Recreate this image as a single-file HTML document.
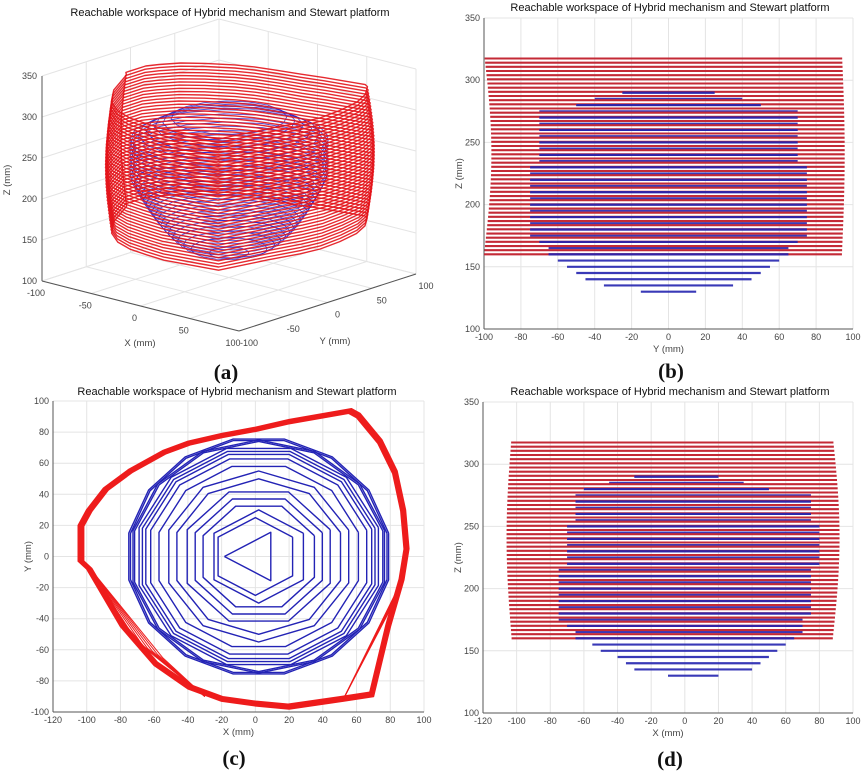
<!DOCTYPE html>
<html><head><meta charset="utf-8"><style>
body{margin:0;background:#fff;}
svg{display:block;font-family:"Liberation Sans",sans-serif;}
</style></head><body>
<svg id="s" width="867" height="778" viewBox="0 0 867 778" xmlns="http://www.w3.org/2000/svg">
<rect width="867" height="778" fill="#fff"/>
<g font-size="11" fill="#111" text-anchor="middle">
<text x="230" y="16">Reachable workspace of Hybrid mechanism and Stewart platform</text>
<text x="670" y="11">Reachable workspace of Hybrid mechanism and Stewart platform</text>
<text x="237" y="395">Reachable workspace of Hybrid mechanism and Stewart platform</text>
<text x="670" y="395">Reachable workspace of Hybrid mechanism and Stewart platform</text>
</g>
<g font-size="21" font-weight="bold" font-family="Liberation Serif,serif" text-anchor="middle" fill="#111">
<text x="226" y="379">(a)</text><text x="671" y="378">(b)</text>
<text x="234" y="765">(c)</text><text x="670" y="766">(d)</text>
</g>
<g id="g"></g>
</svg>
<script>
var G=document.getElementById('g'),NS="http://www.w3.org/2000/svg";
function el(t,a,txt){var e=document.createElementNS(NS,t);for(var k in a)e.setAttribute(k,a[k]);if(txt!=null)e.textContent=txt;G.appendChild(e);return e;}
function line(x1,y1,x2,y2,c,w,o){el('line',{x1:x1,y1:y1,x2:x2,y2:y2,stroke:c,'stroke-width':w,opacity:o==null?1:o});}
function poly(pts,c,w,o,closed){el(closed?'polygon':'polyline',{points:pts.map(function(p){return p[0].toFixed(1)+','+p[1].toFixed(1)}).join(' '),fill:'none',stroke:c,'stroke-width':w,opacity:o==null?1:o,'stroke-linejoin':'round'});}
function txt(x,y,s,anc,sz,rot){var a={x:x,y:y,'font-size':sz||9,fill:'#444','text-anchor':anc||'middle'};if(rot)a.transform='rotate(-90 '+x+' '+y+')';el('text',a,s);}
function ax(L,R,T,B,xmn,xmx,xst,ymn,ymx,yst,xl,yl){
 var sx=function(v){return L+(v-xmn)/(xmx-xmn)*(R-L)},sy=function(v){return B-(v-ymn)/(ymx-ymn)*(B-T)};
 for(var v=xmn;v<=xmx+1e-6;v+=xst){line(sx(v),T,sx(v),B,'#e4e4e4',1);txt(sx(v),B+11,v);}
 for(var v=ymn;v<=ymx+1e-6;v+=yst){line(L,sy(v),R,sy(v),'#e4e4e4',1);txt(L-4,sy(v)+3,v,'end');}
 line(L,B,R,B,'#555',1);line(L,T,L,B,'#555',1);
 txt((L+R)/2,B+23,xl,'middle',9.5);txt(L-22,(T+B)/2,yl,'middle',9.5,1);
 return [sx,sy];
}
// (b)
var f=ax(484,853,18,329,-100,100,20,100,350,50,'Y (mm)','Z (mm)');
function reds(f,lf,rt){for(var z=160;z<=320.1;z+=3.35){var t=(z-160)/160;var l=lf(t),r=rt(t);line(f[0](l),f[1](z),f[0](r),f[1](z),'#c42a36',2.1);}}
function blues(f,arr){arr.forEach(function(a){line(f[0](a[1]),f[1](a[0]),f[0](a[2]),f[1](a[0]),'#2424b0',2.2,0.9);});}
var bb=[[130,-15,15],[135,-35,35],[140,-45,45],[145,-50,50],[150,-55,55],[155,-60,60],[160,-65,65],[165,-65,65],[170,-70,70]];
for(var z=175;z<=230;z+=5)bb.push([z,-75,75]);
for(var z=235;z<=275;z+=5)bb.push([z,-70,70]);
bb.push([280,-50,50],[285,-40,40],[290,-25,25]);
blues(f,bb);
reds(f,function(t){return -100+4*Math.sin(t*3.1)},function(t){return 94+1.5*Math.sin(t*3.1)});
blues(f,bb.filter(function(a){return a[0]>=160&&a[0]%10==0}));
// (d)
f=ax(483,853,402,713,-120,100,20,100,350,50,'X (mm)','Z (mm)');
var bd=[[130,-10,20],[135,-30,40],[140,-35,45],[145,-40,50],[150,-50,55],[155,-55,60],[160,-65,65],[165,-65,70],[170,-70,70],[175,-75,70]];
for(var z=180;z<=215;z+=5)bd.push([z,-75,75]);
for(var z=220;z<=250;z+=5)bd.push([z,-70,80]);
for(var z=255;z<=275;z+=5)bd.push([z,-65,75]);
bd.push([280,-60,50],[285,-45,35],[290,-30,20]);
blues(f,bd);
reds(f,function(t){return -103-3*Math.sin(t*3.1)},function(t){return 88+4*Math.sin(t*3.1)});
blues(f,bd.filter(function(a){return a[0]>=160&&a[0]%10==0}));
// (c)
f=ax(53,424,401,712,-120,100,20,-100,100,20,'X (mm)','Y (mm)');
var RO=[[-105,20],[-105,-3],[-100,-8],[-80,-45],[-60,-70],[-40,-85],[-20,-93],[0,-96],[20,-98],[52,-93],[70,-90],[80,-45],[88,-15],[91,5],[89,30],[84,55],[75,75],[62,92],[57,95],[20,88],[0,83],[-20,79],[-40,74],[-55,68],[-75,56],[-90,44],[-100,30]];
function polyG(cx,cy,rx,ry,n,ph){var p=[];for(var i=0;i<=n;i++){var a=ph+i*2*Math.PI/n;p.push([f[0](cx+rx*Math.cos(a)),f[1](cy+ry*Math.sin(a))]);}return p;}
var rs=[[18,3],[25,6],[30,6],[35,8],[40,8],[45,8],[50,10],[55,10],[60,12],[65,12],[68,12],[70,12],[72,12],[74,14],[75,14],[76,16],[77,16]];
rs.forEach(function(r,i){poly(polyG(i<2?0:2,0,r[0]*1.02,r[0],r[1],i==0?Math.PI:Math.PI/r[1]),'#2323b5',1.4,1,false);});
for(var k=0;k<6;k++){var s=1-k*0.006;poly(RO.map(function(p){return [f[0](p[0]*s),f[1](p[1]*s)]}),'#ee1c1c',1.6,1,true);}
for(var k=0;k<6;k++){poly([[f[0](52),f[1](-92)],[f[0](82+k),f[1](-30+k*3)],[f[0](68),f[1](-90)]],'#ee1c1c',1,1,false);
 poly([[f[0](-100),f[1](-5)],[f[0](-70+k*3),f[1](-55-k*2)],[f[0](-30),f[1](-90)]],'#ee1c1c',1,1,false);}
// (a) 3D
function P(X,Y,Z){var u=(X+100)/200,v=(Y+100)/200;return [42+u*197+v*177,281+u*50-v*57-(Z-100)*0.82];}
for(var z=100;z<=350;z+=50){var a=P(-100,-100,z),b=P(-100,100,z),c=P(100,100,z);line(a[0],a[1],b[0],b[1],'#e4e4e4',1);line(b[0],b[1],c[0],c[1],'#e4e4e4',1);txt(a[0]-5,a[1]+3,z,'end');}
for(var v=-100;v<=100;v+=50){var a=P(-100,v,100),b=P(-100,v,350);line(a[0],a[1],b[0],b[1],'#e4e4e4',1);a=P(v,100,100);b=P(v,100,350);line(a[0],a[1],b[0],b[1],'#e4e4e4',1);
 a=P(v,-100,100);b=P(v,100,100);line(a[0],a[1],b[0],b[1],'#e4e4e4',1);a=P(-100,v,100);b=P(100,v,100);line(a[0],a[1],b[0],b[1],'#e4e4e4',1);
 a=P(v,-100,100);txt(a[0]-6,a[1]+15,v);a=P(100,v,100);txt(a[0]+10,a[1]+15,v);}
var a=P(-100,-100,100),b=P(100,-100,100),c=P(100,100,100);line(a[0],a[1],b[0],b[1],'#555',1);line(b[0],b[1],c[0],c[1],'#555',1);
var d=P(-100,-100,350);line(a[0],a[1],d[0],d[1],'#555',1);
txt(140,346,'X (mm)','middle',9.5);txt(335,344,'Y (mm)','middle',9.5);txt(10,180,'Z (mm)','middle',9.5,1);
for(var z=130;z<=295;z+=5){var t=(z-130)/165,r=Math.min(75,15+Math.sqrt(Math.max(0,t))*80)*(z>270?(1-(z-270)/60):1);
 var p=[];for(var i=0;i<=16;i++){var q=i*Math.PI/8;p.push(P(r*Math.cos(q),r*Math.sin(q),z));}poly(p,'#2323c8',0.9,0.8,false);}
for(var z=160;z<=322;z+=4){var t=(z-160)/160,s=0.97+0.05*Math.sin(t*3.1);
 poly(RO.map(function(q){return P(q[0]*s,q[1]*s,z)}),'#e3131a',1.4,0.9,true);}
</script>
</body></html>
